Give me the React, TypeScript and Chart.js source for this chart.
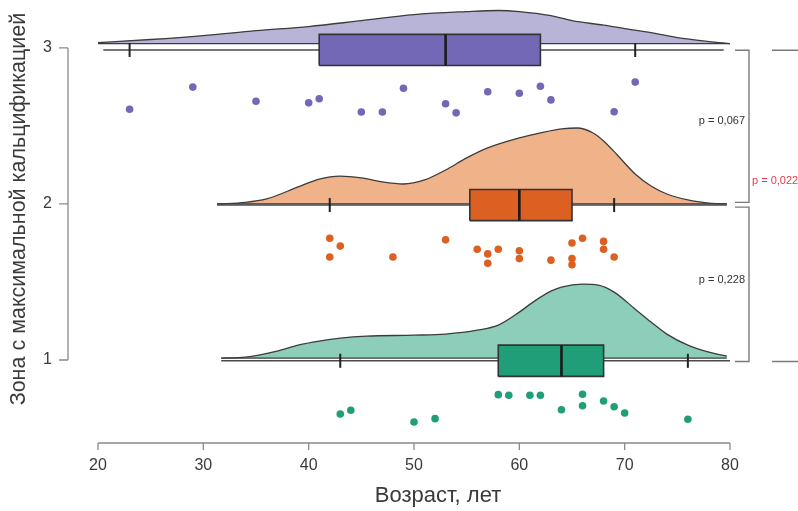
import React, { useEffect, useRef } from "react";
import { Chart, registerables } from "chart.js";
Chart.register(...registerables);

// ---------- DATA ----------
const xTicks = [20, 30, 40, 50, 60, 70, 80];
const yTicks = [1, 2, 3];
const xTitle = "Возраст, лет";
const yTitle = "Зона с максимальной кальцификацией";
const pLabels = ["p = 0,067", "p = 0,228", "p = 0,022"];

// Zone 3 (purple)
const z3Ages = [23, 29, 35, 40, 41, 45, 47, 49, 53, 54, 57, 60, 62, 63, 69, 71];
const z3Jitter = [2.607, 2.749, 2.658, 2.648, 2.674, 2.589, 2.589, 2.742, 2.642, 2.584, 2.719, 2.71, 2.754, 2.667, 2.591, 2.781];
const z3Box = [23, 41, 53, 62, 71]; // min, q1, median, q3, max
const z3DensAges = [20, 25, 30, 35, 40, 45, 50, 55, 58, 60, 63, 65, 68, 70, 73, 75, 78, 80];
const z3DensH = [0.006, 0.026, 0.051, 0.083, 0.109, 0.147, 0.186, 0.205, 0.212, 0.205, 0.179, 0.147, 0.118, 0.096, 0.064, 0.038, 0.013, 0];

// Zone 2 (orange)
const z2Ages = [42, 43, 42, 48, 53, 56, 57, 57, 58, 60, 60, 63, 65, 66, 65, 65, 68, 68, 69];
const z2Jitter = [1.78, 1.73, 1.66, 1.66, 1.77, 1.71, 1.68, 1.62, 1.71, 1.70, 1.65, 1.64, 1.75, 1.78, 1.65, 1.61, 1.76, 1.71, 1.66];
const z2Box = [42, 55.3, 60, 65, 69];
const z2DensAges = [31.3, 34, 36, 39, 41, 43, 45, 47, 49, 51, 53, 55, 57, 60, 62, 64, 65.5, 67, 68, 69.3, 71, 72.5, 74, 76, 78, 79.7];
const z2DensH = [0, 0.01, 0.032, 0.109, 0.16, 0.179, 0.167, 0.141, 0.128, 0.154, 0.218, 0.295, 0.359, 0.423, 0.455, 0.481, 0.487, 0.455, 0.404, 0.314, 0.192, 0.115, 0.064, 0.026, 0.006, 0];

// Zone 1 (green)
const z1Ages = [43, 44, 50, 52, 58, 59, 61, 62, 64, 66, 66, 68, 69, 70, 76];
const z1Jitter = [0.654, 0.678, 0.603, 0.624, 0.778, 0.774, 0.774, 0.774, 0.681, 0.78, 0.707, 0.737, 0.7, 0.66, 0.62];
const z1Box = [43, 58, 64, 68, 76];
const z1DensAges = [31.7, 34, 37, 39, 41, 43, 45.5, 50, 53, 56, 58, 60, 61.3, 63, 64, 66, 67.5, 69, 71, 72.5, 74, 76, 78, 79.7];
const z1DensH = [0, 0.006, 0.045, 0.083, 0.109, 0.128, 0.141, 0.147, 0.154, 0.179, 0.212, 0.295, 0.359, 0.429, 0.455, 0.474, 0.468, 0.423, 0.314, 0.231, 0.154, 0.083, 0.038, 0.013];

// ---------- STYLE ----------
const FONT = "'Liberation Sans', Arial, sans-serif";
const TEXT = "#3a3a3a";
const AXIS = "#8a8a8a";
const OUTLINE = "#3c3c3c";

type Group = {
  ages: number[]; jitter: number[]; box: number[];
  dAges: number[]; dH: number[];
  base: number; center: number;
  color: string; light: string; lineFrom: number; lineTo: number;
};

const groupList: Group[] = [
  { ages: z3Ages, jitter: z3Jitter, box: z3Box, dAges: z3DensAges, dH: z3DensH, base: 3.028, center: 2.987,
    color: "#7268B5", light: "rgba(117,112,179,0.52)", lineFrom: 20.5, lineTo: 79.4 },
  { ages: z2Ages, jitter: z2Jitter, box: z2Box, dAges: z2DensAges, dH: z2DensH, base: 2.0, center: 1.993,
    color: "#DC6022", light: "rgba(228,115,40,0.55)", lineFrom: 31.3, lineTo: 79.7 },
  { ages: z1Ages, jitter: z1Jitter, box: z1Box, dAges: z1DensAges, dH: z1DensH, base: 1.012, center: 0.995,
    color: "#1F9E77", light: "rgba(27,158,119,0.5)", lineFrom: 31.7, lineTo: 80 },
];

const BOX_HALF = 0.1;
const CAP_HALF = 0.045;

function buildDatasets() {
  const ds: any[] = [];
  const line = (data: any[], extra: any) => ({
    type: "line", data, showLine: true, pointRadius: 0, pointHoverRadius: 0,
    fill: false, tension: 0, ...extra,
  });
  groupList.forEach((g) => {
    ds.push(line(g.dAges.map((a, i) => ({ x: a, y: g.base + g.dH[i] })), {
      borderColor: OUTLINE, borderWidth: 1.3, backgroundColor: g.light,
      fill: { value: g.base }, cubicInterpolationMode: "monotone", order: 10,
    }));
    ds.push(line([{ x: g.dAges[0], y: g.base }, { x: g.dAges[g.dAges.length - 1], y: g.base }], {
      borderColor: OUTLINE, borderWidth: 1.2, order: 9,
    }));
    ds.push(line([{ x: g.lineFrom, y: g.center }, { x: g.lineTo, y: g.center }], {
      borderColor: "#4a4a4a", borderWidth: 1.6, order: 8,
    }));
    [g.box[0], g.box[4]].forEach((v) => {
      ds.push(line([{ x: v, y: g.center - CAP_HALF }, { x: v, y: g.center + CAP_HALF }], {
        borderColor: "#222", borderWidth: 2, order: 7,
      }));
    });
    ds.push(line([{ x: g.box[1], y: g.center + BOX_HALF }, { x: g.box[3], y: g.center + BOX_HALF }], {
      borderWidth: 0, borderColor: "rgba(0,0,0,0)", backgroundColor: g.color,
      fill: { value: g.center - BOX_HALF }, order: 6,
    }));
    ds.push(line([
      { x: g.box[1], y: g.center - BOX_HALF }, { x: g.box[3], y: g.center - BOX_HALF },
      { x: g.box[3], y: g.center + BOX_HALF }, { x: g.box[1], y: g.center + BOX_HALF },
      { x: g.box[1], y: g.center - BOX_HALF },
    ], { borderColor: "#333", borderWidth: 1.6, order: 5 }));
    ds.push(line([{ x: g.box[2], y: g.center - BOX_HALF }, { x: g.box[2], y: g.center + BOX_HALF }], {
      borderColor: "#1a1a1a", borderWidth: 2.6, order: 4,
    }));
    ds.push({
      type: "scatter", data: g.ages.map((a, i) => ({ x: a, y: g.jitter[i] })),
      pointRadius: 3.8, pointBorderWidth: 0, pointBackgroundColor: g.color, showLine: false, order: 1,
    });
  });
  return ds;
}

const annotPlugin = {
  id: "rStyleAxes",
  afterDraw(chart: any) {
    const { ctx, chartArea, scales } = chart;
    const x = scales.x, y = scales.y;
    ctx.save();
    // x axis
    const axY = chartArea.bottom;
    ctx.strokeStyle = AXIS;
    ctx.lineWidth = 1.3;
    ctx.beginPath();
    ctx.moveTo(x.getPixelForValue(xTicks[0]), axY);
    ctx.lineTo(x.getPixelForValue(xTicks[xTicks.length - 1]), axY);
    xTicks.forEach((t) => {
      const px = x.getPixelForValue(t);
      ctx.moveTo(px, axY);
      ctx.lineTo(px, axY + 7);
    });
    ctx.stroke();
    ctx.fillStyle = TEXT;
    ctx.font = `16px ${FONT}`;
    ctx.textAlign = "center";
    ctx.textBaseline = "middle";
    xTicks.forEach((t) => ctx.fillText(String(t), x.getPixelForValue(t), axY + 23));
    ctx.font = `22px ${FONT}`;
    ctx.fillText(xTitle, (chartArea.left + chartArea.right) / 2 + 24, axY + 53);

    // y axis
    const axX = chartArea.left - 30;
    ctx.beginPath();
    ctx.moveTo(axX, y.getPixelForValue(yTicks[yTicks.length - 1]));
    ctx.lineTo(axX, y.getPixelForValue(yTicks[0]));
    yTicks.forEach((t) => {
      const py = y.getPixelForValue(t);
      ctx.moveTo(axX - 9, py);
      ctx.lineTo(axX, py);
    });
    ctx.stroke();
    ctx.font = `16px ${FONT}`;
    ctx.textAlign = "right";
    yTicks.forEach((t) => ctx.fillText(String(t), axX - 16, y.getPixelForValue(t)));
    ctx.save();
    ctx.translate(19, 209);
    ctx.rotate(-Math.PI / 2);
    ctx.textAlign = "center";
    ctx.font = `21.5px ${FONT}`;
    ctx.fillText(yTitle, 0, 0);
    ctx.restore();

    // brackets
    const bx = chartArea.right + 19;
    ctx.strokeStyle = "#7a7a7a";
    ctx.lineWidth = 1.4;
    const bracket = (v1: number, v2: number) => {
      const p1 = y.getPixelForValue(v1), p2 = y.getPixelForValue(v2);
      ctx.beginPath();
      ctx.moveTo(bx - 14, p1); ctx.lineTo(bx, p1); ctx.lineTo(bx, p2); ctx.lineTo(bx - 14, p2);
      ctx.stroke();
    };
    bracket(2.985, 2.01);
    bracket(1.98, 0.99);
    ctx.beginPath();
    const t1 = y.getPixelForValue(2.985), t2 = y.getPixelForValue(0.99);
    ctx.moveTo(chartArea.right + 42, t1); ctx.lineTo(chartArea.right + 80, t1);
    ctx.moveTo(chartArea.right + 42, t2); ctx.lineTo(chartArea.right + 80, t2);
    ctx.stroke();

    ctx.font = `11px ${FONT}`;
    ctx.textAlign = "right";
    ctx.fillStyle = "#333";
    ctx.fillText(pLabels[0], bx - 4, y.getPixelForValue(2.53));
    ctx.fillText(pLabels[1], bx - 4, y.getPixelForValue(1.51));
    ctx.textAlign = "left";
    ctx.fillStyle = "#e8394a";
    ctx.fillText(pLabels[2], bx + 3, y.getPixelForValue(2.15));
    ctx.restore();
  },
};

export default function App() {
  const ref = useRef<HTMLCanvasElement>(null);
  useEffect(() => {
    if (!ref.current) return;
    const chart = new Chart(ref.current, {
      type: "scatter",
      data: { datasets: buildDatasets() },
      options: {
        responsive: false,
        animation: false,
        events: [],
        layout: { padding: { left: 98, right: 68, top: 8, bottom: 68 } },
        plugins: { legend: { display: false }, tooltip: { enabled: false } },
        scales: {
          x: { type: "linear", min: 20, max: 80, display: false },
          y: { type: "linear", min: 0.468, max: 3.256, display: false },
        },
      },
      plugins: [annotPlugin],
    } as any);
    return () => chart.destroy();
  }, []);
  return (
    <div style={{ position: "fixed", left: 0, top: 0, width: 798, height: 511, background: "#fff" }}>
      <canvas ref={ref} width={798} height={511} style={{ width: 798, height: 511 }} />
    </div>
  );
}
